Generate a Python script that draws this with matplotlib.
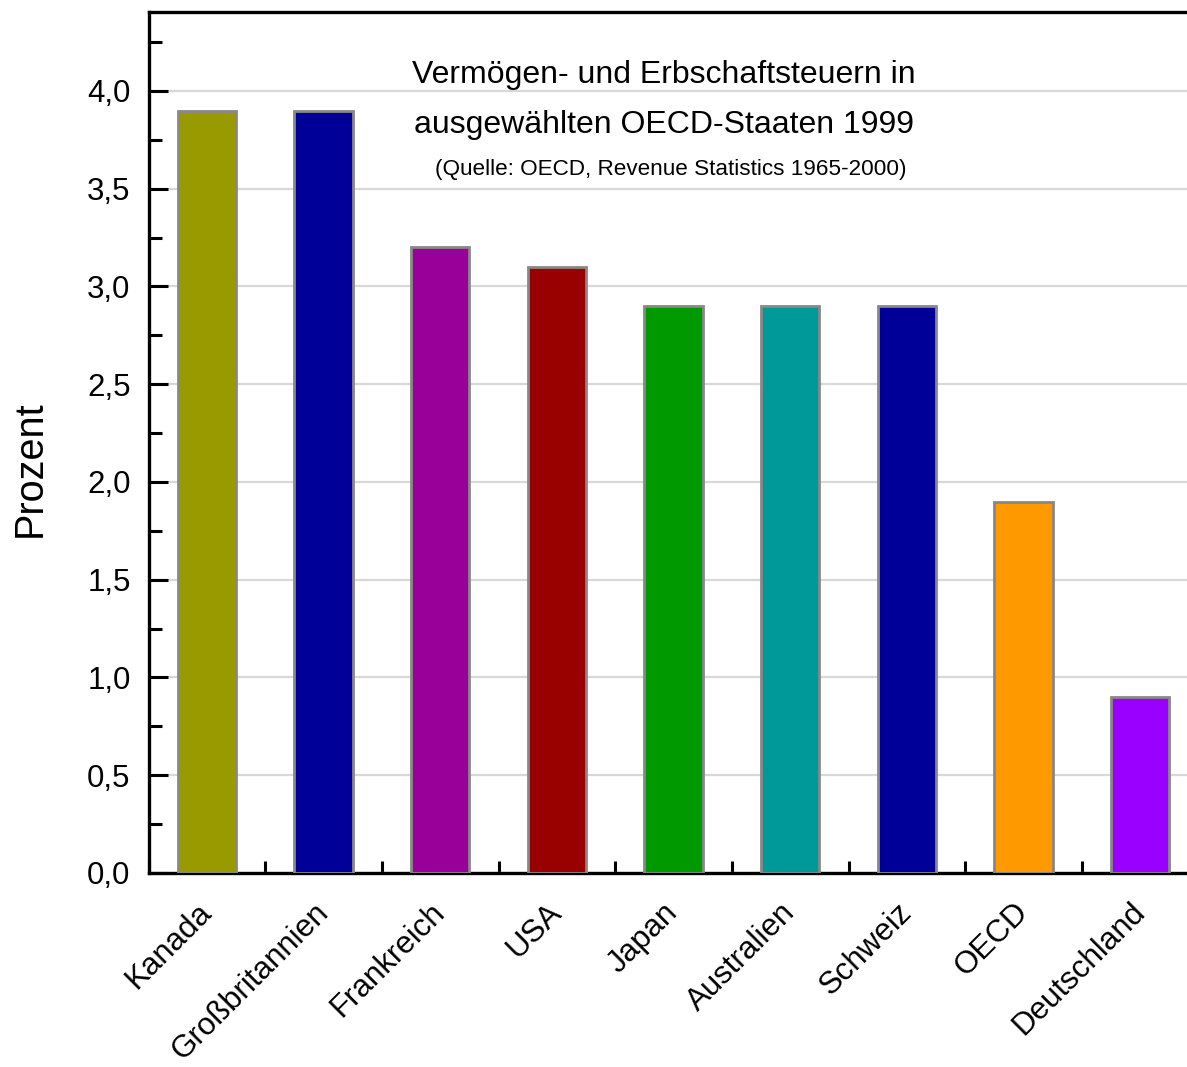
import matplotlib.pyplot as plt
import matplotlib.transforms as mtransforms
from matplotlib.ticker import MultipleLocator, FixedLocator, NullFormatter

plt.rcParams['font.family'] = ['Liberation Sans', 'DejaVu Sans']

# Data
countries = ['Kanada', 'Großbritannien', 'Frankreich', 'USA', 'Japan',
             'Australien', 'Schweiz', 'OECD', 'Deutschland']
values = [3.9, 3.9, 3.2, 3.1, 2.9, 2.9, 2.9, 1.9, 0.9]
colors = ['#999900', '#000099', '#990099', '#990000', '#009900',
          '#009999', '#000099', '#ff9900', '#9900ff']

fig = plt.figure(figsize=(11.87, 10.67), dpi=100)
# axes extends past the right edge, like in the original
ax = fig.add_axes([148.6 / 1187, 194 / 1067, 1050 / 1187, 861 / 1067])

x = list(range(len(countries)))
ax.bar(x, values, width=0.5, color=colors, edgecolor='#888888',
       linewidth=2.0, zorder=3)

ax.set_xlim(-0.5, 8.5)
ax.set_ylim(0, 4.404)

# grid at major y ticks
ax.yaxis.set_major_locator(MultipleLocator(0.5))
ax.yaxis.set_minor_locator(MultipleLocator(0.25))
ax.yaxis.grid(True, color='#d8d8d8', linewidth=1.6, zorder=0)
ax.set_axisbelow(True)
ax.set_yticklabels([f'{v:.1f}'.replace('.', ',') for v in ax.get_yticks()])

ax.set_xticks(x)
ax.set_xticklabels(countries, rotation=45, ha='right', va='center',
                   rotation_mode='anchor')
ax.xaxis.set_minor_locator(FixedLocator([i + 0.5 for i in range(-1, 9)]))
ax.xaxis.set_minor_formatter(NullFormatter())

# nudge the rotated labels a little to the left
shift = mtransforms.ScaledTranslation(-6 / 100, 0, fig.dpi_scale_trans)
for lbl in ax.get_xticklabels():
    lbl.set_transform(lbl.get_transform() + shift)

ax.tick_params(axis='y', which='major', direction='in', length=14, width=2.2,
               labelsize=22.5, pad=13)
ax.tick_params(axis='y', which='minor', direction='in', length=9, width=2.2)
ax.tick_params(axis='x', which='major', length=0, labelsize=22.5, pad=25)
ax.tick_params(axis='x', which='minor', direction='in', length=9, width=2.2)

for side in ['left', 'bottom', 'top']:
    ax.spines[side].set_linewidth(2.4)
    ax.spines[side].set_color('black')
ax.spines['right'].set_visible(False)

ax.set_ylabel('Prozent', fontsize=28.5)
ax.yaxis.set_label_coords(-0.095, 0.47)

fig.text(664 / 1187, 1 - 75 / 1067, 'Vermögen- und Erbschaftsteuern in',
         fontsize=23, ha='center', va='center')
fig.text(664 / 1187, 1 - 125 / 1067, 'ausgewählten OECD-Staaten 1999',
         fontsize=23, ha='center', va='center')
fig.text(671 / 1187, 1 - 170 / 1067, '(Quelle: OECD, Revenue Statistics 1965-2000)',
         fontsize=16.2, ha='center', va='center')

fig.savefig('out.png', dpi=100)
